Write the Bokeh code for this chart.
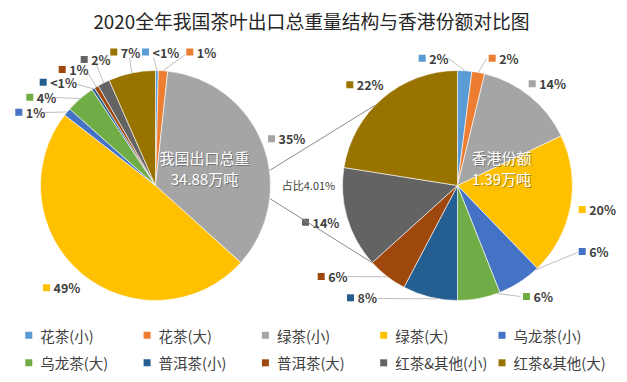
import math
from bokeh.plotting import figure
from bokeh.models import ColumnDataSource, Range1d
from bokeh.core.properties import value
from bokeh.embed import file_html
from bokeh.resources import INLINE

# ---------------- data ----------------
title_text = "2020全年我国茶叶出口总重量结构与香港份额对比图"
categories = ["花茶(小)", "花茶(大)", "绿茶(小)", "绿茶(大)", "乌龙茶(小)",
              "乌龙茶(大)", "普洱茶(小)", "普洱茶(大)", "红茶&其他(小)", "红茶&其他(大)"]
colors = ["#5B9BD5", "#ED7D31", "#A5A5A5", "#FFC000", "#4472C4",
          "#70AD47", "#255E91", "#9E480E", "#636363", "#997300"]
national_share = [0.4, 1.3, 35.0, 48.8, 1.1, 4.1, 0.4, 0.6, 1.7, 6.6]
national_labels = ["<1%", "1%", "35%", "49%", "1%", "4%", "<1%", "1%", "2%", "7%"]
hk_share = [2.0, 1.8, 14.1, 19.9, 6.2, 6.0, 7.7, 5.6, 14.2, 22.5]
hk_labels = ["2%", "2%", "14%", "20%", "6%", "6%", "8%", "6%", "14%", "22%"]
national_center_text = ["我国出口总重", "34.88万吨"]
hk_center_text = ["香港份额", "1.39万吨"]
ratio_text = "占比4.01%"

# ---------------- layout (image pixel coordinates) ----------------
FIG_W, FIG_H = 627, 382
FONT = value("Noto Sans CJK SC")
L_CX, L_CY = 155, 185
R_CX, R_CY = 457, 185
RAD = 115

nat_label_pos = [(145, 51.5), (189.3, 51.5), (271, 138.3), (46, 287.3), (18.3, 111.7),
                 (29.3, 96.7), (42.7, 81.7), (61.7, 69), (83.7, 59), (113.3, 51.5)]
nat_leader_start = [(153, 57), (185, 54), None, None, (44, 112),
                    (55, 97), (77, 84), (87, 72), (96, 64), (129, 57)]
nat_leader_frac = [0.5] * 10

hk_label_pos = [(421.7, 57.7), (491.7, 57.7), (531.7, 83.3), (581.7, 209), (581.7, 251),
                (526, 296), (350, 297.3), (320.7, 276), (305, 221.7), (349.3, 84.3)]
hk_leader_start = [(448, 58), (486, 58), None, None, (577, 252),
                   (520, 296), (377, 298), (347, 276), None, None]
hk_leader_frac = [0.5, 0.5, 0.5, 0.5, 0.05, 0.07, 0.35, 0.48, 0.5, 0.5]


def Y(img_y):
    return FIG_H - img_y


p = figure(width=FIG_W, height=FIG_H, output_backend="svg", toolbar_location=None,
           x_range=Range1d(0, FIG_W), y_range=Range1d(0, FIG_H), min_border=0)
p.axis.visible = False
p.grid.visible = False
p.outline_line_color = None
p.background_fill_color = "white"
p.border_fill_color = "white"


def slice_angles(shares):
    total = float(sum(shares))
    bounds = []
    cum = 0.0
    for s in shares:
        t1 = cum / total * 2 * math.pi
        cum += s
        t2 = cum / total * 2 * math.pi
        bounds.append((t1, t2))
    return bounds


def edge_point(cx, cy, theta, r=RAD):
    return cx + r * math.sin(theta), cy - r * math.cos(theta)


def draw_pie(shares, labels, cx, cy, label_pos, leader_start, leader_frac):
    bounds = slice_angles(shares)
    src = ColumnDataSource(dict(
        start=[math.pi / 2 - b[1] for b in bounds],
        end=[math.pi / 2 - b[0] for b in bounds],
        color=colors,
    ))
    p.wedge(x=cx, y=Y(cy), radius=RAD, start_angle="start", end_angle="end",
            direction="anticlock", fill_color="color", line_color="white",
            line_width=0.6, source=src)
    for i, st in enumerate(leader_start):
        if st is None:
            continue
        t1, t2 = bounds[i]
        th = t1 + (t2 - t1) * leader_frac[i]
        ex, ey = edge_point(cx, cy, th)
        p.line([st[0], ex], [Y(st[1]), Y(ey)], line_color="#BFBFBF", line_width=1)
    xs = [lp[0] for lp in label_pos]
    ys = [Y(lp[1]) for lp in label_pos]
    p.scatter(x=xs, y=ys, marker="square", size=7, fill_color=colors, line_color=None)
    p.text(x=[x + 7 for x in xs], y=ys, text=labels, text_font=FONT,
           text_font_size="12.5px", text_font_style="bold", text_color="#404040",
           text_align="left", text_baseline="middle")


def conn_pts():
    a_up, a_dn = math.radians(7.5), math.radians(-6.5)
    b_up, b_dn = math.radians(135.7), math.radians(222.2)
    l_up = (L_CX + RAD * math.cos(a_up), L_CY - RAD * math.sin(a_up))
    l_dn = (L_CX + RAD * math.cos(a_dn), L_CY - RAD * math.sin(a_dn))
    r_up = (R_CX + RAD * math.cos(b_up), R_CY - RAD * math.sin(b_up))
    r_dn = (R_CX + RAD * math.cos(b_dn), R_CY - RAD * math.sin(b_dn))
    return (l_up, r_up), (l_dn, r_dn)


draw_pie(national_share, national_labels, L_CX, L_CY, nat_label_pos, nat_leader_start, nat_leader_frac)
draw_pie(hk_share, hk_labels, R_CX, R_CY, hk_label_pos, hk_leader_start, hk_leader_frac)

for a, b in conn_pts():
    p.line([a[0], b[0]], [Y(a[1]), Y(b[1])], line_color="#8C8C8C", line_width=1)


def center_text(lines, cx, ys):
    for dx, dy, col, alpha in [(1, 1, "#3a3a3a", 0.45), (0, 0, "white", 1.0)]:
        p.text(x=[cx + dx] * len(lines), y=[Y(y + dy) for y in ys], text=lines,
               text_font=FONT, text_font_size="15px", text_color=col, text_alpha=alpha,
               text_align="center", text_baseline="middle")


center_text(national_center_text, 204, [157, 178])
center_text(hk_center_text, 501, [157, 178])

p.text(x=[308], y=[Y(184)], text=[ratio_text], text_font=FONT, text_font_size="11px",
       text_color="#404040", text_align="center", text_baseline="middle")

p.text(x=[311], y=[Y(20)], text=[title_text], text_font=FONT, text_font_size="18.8px",
       text_color="#262626", text_align="center", text_baseline="middle")

leg_x = [28.3 + (i % 5) * 118.3 for i in range(len(categories))]
leg_y = [Y(334.8 if i < 5 else 362.3) for i in range(len(categories))]
p.scatter(x=leg_x, y=leg_y, marker="square", size=7, fill_color=colors, line_color=None)
p.text(x=[x + 11.5 for x in leg_x], y=leg_y, text=categories, text_font=FONT,
       text_font_size="14.5px", text_color="#404040", text_align="left", text_baseline="middle")

open("out.html", "w").write(file_html(p, INLINE))
